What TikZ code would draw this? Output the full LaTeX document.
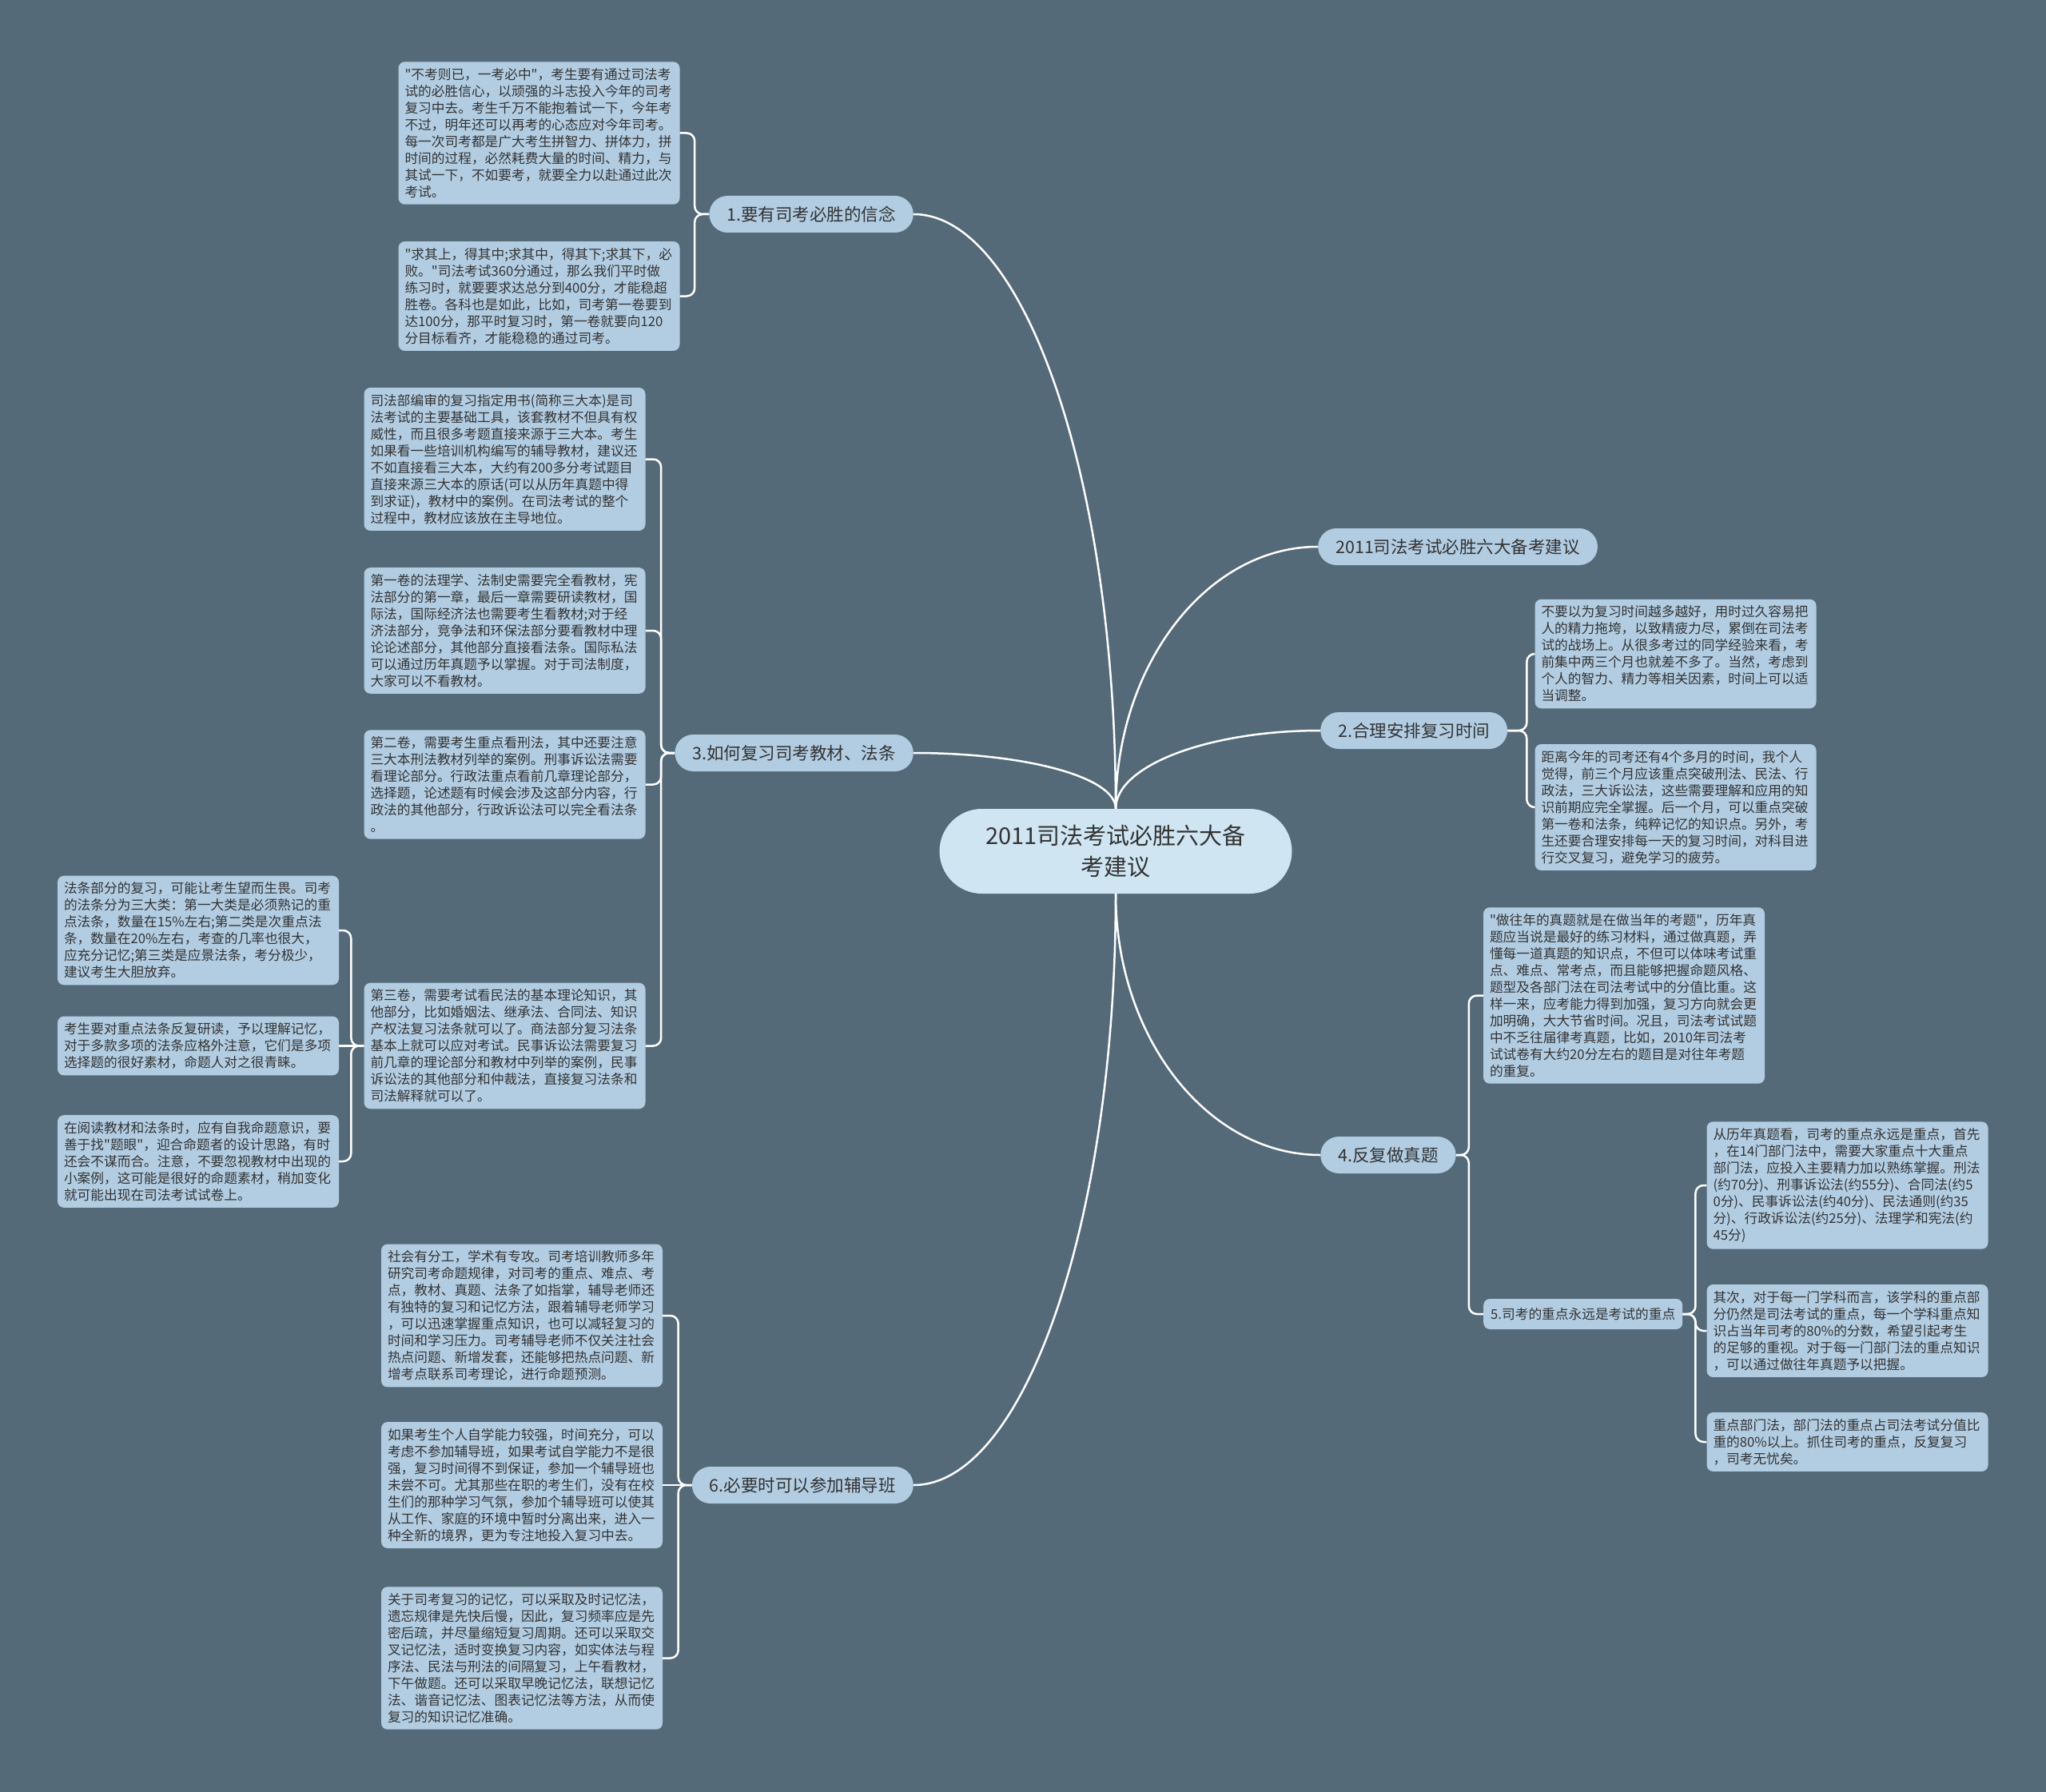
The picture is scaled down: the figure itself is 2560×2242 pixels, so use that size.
\documentclass[tikz,border=0pt]{standalone}
\usepackage{fontspec}
\setmainfont{Noto Sans CJK SC}[Ligatures=TeXOff]
\usepackage{tikz}
\definecolor{bgslate}{HTML}{546A79}
\definecolor{leafblue}{HTML}{B2CDE2}
\definecolor{rootblue}{HTML}{CFE5F2}
\definecolor{inkgray}{HTML}{333333}

\begin{document}
\begin{tikzpicture}[x=1pt,y=-1pt,
  leaf/.style={rectangle,rounded corners=8pt,fill=leafblue,text=inkgray,
    text width=336pt,inner xsep=8pt,inner ysep=8pt,align=left,
    font=\fontsize{16.7}{21}\selectfont},
  branch/.style={rectangle,rounded corners=23pt,fill=leafblue,text=inkgray,
    minimum height=46pt,inner xsep=22pt,font=\fontsize{21.5}{25}\selectfont},
  sub/.style={rectangle,rounded corners=8pt,fill=leafblue,text=inkgray,
    minimum height=38pt,inner xsep=9pt,font=\fontsize{16.7}{21}\selectfont},
  root/.style={rectangle,rounded corners=53pt,fill=rootblue,text=inkgray,
    minimum width=441pt,minimum height=106pt,align=center,
    font=\fontsize{29}{39}\selectfont},
  link/.style={draw=white,line width=2.5pt},
  brace/.style={link,rounded corners=10pt}]

  \fill[bgslate] (0,0) rectangle (2560,2242);
  \useasboundingbox (0,0) rectangle (2560,2242);

  \node[root] (root) at (1396,1065) {2011司法考试必胜六大备\\考建议};

  % main branches
  \node[branch,anchor=east] (b1) at (1143,268) {1.要有司考必胜的信念};
  \node[branch,anchor=east] (b3) at (1143,942) {3.如何复习司考教材、法条};
  \node[branch,anchor=east] (b6) at (1143,1858) {6.必要时可以参加辅导班};
  \node[branch,anchor=west] (bt) at (1649,684) {2011司法考试必胜六大备考建议};
  \node[branch,anchor=west] (b2) at (1652,914) {2.合理安排复习时间};
  \node[branch,anchor=west] (b4) at (1652,1445) {4.反复做真题};
  \node[sub,anchor=west] (b5) at (1856,1644) {5.司考的重点永远是考试的重点};

  % branch 1
  \node[leaf] (b1a) at (674.5,166.5) {"不考则已，一考必中"，考生要有通过司法考\\
试的必胜信心，以顽强的斗志投入今年的司考\\
复习中去。考生千万不能抱着试一下，今年考\\
不过，明年还可以再考的心态应对今年司考。\\
每一次司考都是广大考生拼智力、拼体力，拼\\
时间的过程，必然耗费大量的时间、精力，与\\
其试一下，不如要考，就要全力以赴通过此次\\
考试。};
  \node[leaf] (b1b) at (674.5,370.5) {"求其上，得其中;求其中，得其下;求其下，必\\
败。"司法考试360分通过，那么我们平时做\\
练习时，就要要求达总分到400分，才能稳超\\
胜卷。各科也是如此，比如，司考第一卷要到\\
达100分，那平时复习时，第一卷就要向120\\
分目标看齐，才能稳稳的通过司考。};

  % branch 3
  \node[leaf] (b3a) at (631.5,574.5) {司法部编审的复习指定用书(简称三大本)是司\\
法考试的主要基础工具，该套教材不但具有权\\
威性，而且很多考题直接来源于三大本。考生\\
如果看一些培训机构编写的辅导教材，建议还\\
不如直接看三大本，大约有200多分考试题目\\
直接来源三大本的原话(可以从历年真题中得\\
到求证)，教材中的案例。在司法考试的整个\\
过程中，教材应该放在主导地位。};
  \node[leaf] (b3b) at (631.5,789) {第一卷的法理学、法制史需要完全看教材，宪\\
法部分的第一章，最后一章需要研读教材，国\\
际法，国际经济法也需要考生看教材;对于经\\
济法部分，竞争法和环保法部分要看教材中理\\
论论述部分，其他部分直接看法条。国际私法\\
可以通过历年真题予以掌握。对于司法制度，\\
大家可以不看教材。};
  \node[leaf] (b3c) at (631.5,981.5) {第二卷，需要考生重点看刑法，其中还要注意\\
三大本刑法教材列举的案例。刑事诉讼法需要\\
看理论部分。行政法重点看前几章理论部分，\\
选择题，论述题有时候会涉及这部分内容，行\\
政法的其他部分，行政诉讼法可以完全看法条\\
。};
  \node[leaf] (b3d) at (631.5,1308.5) {第三卷，需要考试看民法的基本理论知识，其\\
他部分，比如婚姻法、继承法、合同法、知识\\
产权法复习法条就可以了。商法部分复习法条\\
基本上就可以应对考试。民事诉讼法需要复习\\
前几章的理论部分和教材中列举的案例，民事\\
诉讼法的其他部分和仲裁法，直接复习法条和\\
司法解释就可以了。};

  \node[leaf] (b3d1) at (248,1164) {法条部分的复习，可能让考生望而生畏。司考\\
的法条分为三大类：第一大类是必须熟记的重\\
点法条，数量在15\%左右;第二类是次重点法\\
条，数量在20\%左右，考查的几率也很大，\\
应充分记忆;第三类是应景法条，考分极少，\\
建议考生大胆放弃。};
  \node[leaf] (b3d2) at (248,1308.5) {考生要对重点法条反复研读，予以理解记忆，\\
对于多款多项的法条应格外注意，它们是多项\\
选择题的很好素材，命题人对之很青睐。};
  \node[leaf] (b3d3) at (248,1453) {在阅读教材和法条时，应有自我命题意识，要\\
善于找"题眼"，迎合命题者的设计思路，有时\\
还会不谋而合。注意，不要忽视教材中出现的\\
小案例，这可能是很好的命题素材，稍加变化\\
就可能出现在司法考试试卷上。};

  % branch 6
  \node[leaf] (b6a) at (653,1646) {社会有分工，学术有专攻。司考培训教师多年\\
研究司考命题规律，对司考的重点、难点、考\\
点，教材、真题、法条了如指掌，辅导老师还\\
有独特的复习和记忆方法，跟着辅导老师学习\\
，可以迅速掌握重点知识，也可以减轻复习的\\
时间和学习压力。司考辅导老师不仅关注社会\\
热点问题、新增发套，还能够把热点问题、新\\
增考点联系司考理论，进行命题预测。};
  \node[leaf] (b6b) at (653,1858) {如果考生个人自学能力较强，时间充分，可以\\
考虑不参加辅导班，如果考试自学能力不是很\\
强，复习时间得不到保证，参加一个辅导班也\\
未尝不可。尤其那些在职的考生们，没有在校\\
生们的那种学习气氛，参加个辅导班可以使其\\
从工作、家庭的环境中暂时分离出来，进入一\\
种全新的境界，更为专注地投入复习中去。};
  \node[leaf] (b6c) at (653,2074.5) {关于司考复习的记忆，可以采取及时记忆法，\\
遗忘规律是先快后慢，因此，复习频率应是先\\
密后疏，并尽量缩短复习周期。还可以采取交\\
叉记忆法，适时变换复习内容，如实体法与程\\
序法、民法与刑法的间隔复习，上午看教材，\\
下午做题。还可以采取早晚记忆法，联想记忆\\
法、谐音记忆法、图表记忆法等方法，从而使\\
复习的知识记忆准确。};

  % branch 2
  \node[leaf] (b2a) at (2096.5,818) {不要以为复习时间越多越好，用时过久容易把\\
人的精力拖垮，以致精疲力尽，累倒在司法考\\
试的战场上。从很多考过的同学经验来看，考\\
前集中两三个月也就差不多了。当然，考虑到\\
个人的智力、精力等相关因素，时间上可以适\\
当调整。};
  \node[leaf] (b2b) at (2096.5,1010) {距离今年的司考还有4个多月的时间，我个人\\
觉得，前三个月应该重点突破刑法、民法、行\\
政法，三大诉讼法，这些需要理解和应用的知\\
识前期应完全掌握。后一个月，可以重点突破\\
第一卷和法条，纯粹记忆的知识点。另外，考\\
生还要合理安排每一天的复习时间，对科目进\\
行交叉复习，避免学习的疲劳。};

  % branch 4
  \node[leaf] (b4a) at (2032,1245.5) {"做往年的真题就是在做当年的考题"，历年真\\
题应当说是最好的练习材料，通过做真题，弄\\
懂每一道真题的知识点，不但可以体味考试重\\
点、难点、常考点，而且能够把握命题风格、\\
题型及各部门法在司法考试中的分值比重。这\\
样一来，应考能力得到加强，复习方向就会更\\
加明确，大大节省时间。况且，司法考试试题\\
中不乏往届律考真题，比如，2010年司法考\\
试试卷有大约20分左右的题目是对往年考题\\
的重复。};

  \node[leaf] (b5a) at (2311.5,1483) {从历年真题看，司考的重点永远是重点，首先\\
，在14门部门法中，需要大家重点十大重点\\
部门法，应投入主要精力加以熟练掌握。刑法\\
(约70分)、刑事诉讼法(约55分)、合同法(约5\\
0分)、民事诉讼法(约40分)、民法通则(约35\\
分)、行政诉讼法(约25分)、法理学和宪法(约\\
45分)};
  \node[leaf] (b5b) at (2311.5,1665) {其次，对于每一门学科而言，该学科的重点部\\
分仍然是司法考试的重点，每一个学科重点知\\
识占当年司考的80\%的分数，希望引起考生\\
的足够的重视。对于每一门部门法的重点知识\\
，可以通过做往年真题予以把握。};
  \node[leaf] (b5c) at (2311.5,1804) {重点部门法，部门法的重点占司法考试分值比\\
重的80\%以上。抓住司考的重点，反复复习\\
，司考无忧矣。};

  % root to branches
  \draw[link] (root.north) .. controls +(0,-410) and +(139,0) .. (b1.east);
  \draw[link] (root.north) .. controls +(0,-40) and +(139,0) .. (b3.east);
  \draw[link] (root.south) .. controls +(0,407) and +(139,0) .. (b6.east);
  \draw[link] (root.north) .. controls +(0,-180) and +(-139,0) .. (bt.west);
  \draw[link] (root.north) .. controls +(0,-54) and +(-140,0) .. (b2.west);
  \draw[link] (root.south) .. controls +(0,180) and +(-141,0) .. (b4.west);

  % branches to leaves
  \draw[brace] (b1.west) -- ++(-18,0) |- (b1a.east);
  \draw[brace] (b1.west) -- ++(-18,0) |- (b1b.east);
  \draw[brace] (b3.west) -- ++(-17,0) |- (b3a.east);
  \draw[brace] (b3.west) -- ++(-17,0) |- (b3b.east);
  \draw[brace] (b3.west) -- ++(-17,0) |- (b3c.east);
  \draw[brace] (b3.west) -- ++(-17,0) |- (b3d.east);
  \draw[brace] (b3d.west) -- ++(-16,0) |- (b3d1.east);
  \draw[link] (b3d.west) -- (b3d2.east);
  \draw[brace] (b3d.west) -- ++(-16,0) |- (b3d3.east);
  \draw[brace] (b6.west) -- ++(-17,0) |- (b6a.east);
  \draw[link] (b6.west) -- (b6b.east);
  \draw[brace] (b6.west) -- ++(-17,0) |- (b6c.east);
  \draw[brace] (b2.east) -- ++(24,0) |- (b2a.west);
  \draw[brace] (b2.east) -- ++(24,0) |- (b2b.west);
  \draw[brace] (b4.east) -- ++(16,0) |- (b4a.west);
  \draw[brace] (b4.east) -- ++(16,0) |- (b5.west);
  \draw[brace] (b5.east) -- ++(16,0) |- (b5a.west);
  \draw[brace] (b5.east) -- ++(16,0) |- (b5b.west);
  \draw[brace] (b5.east) -- ++(16,0) |- (b5c.west);
\end{tikzpicture}
\end{document}
